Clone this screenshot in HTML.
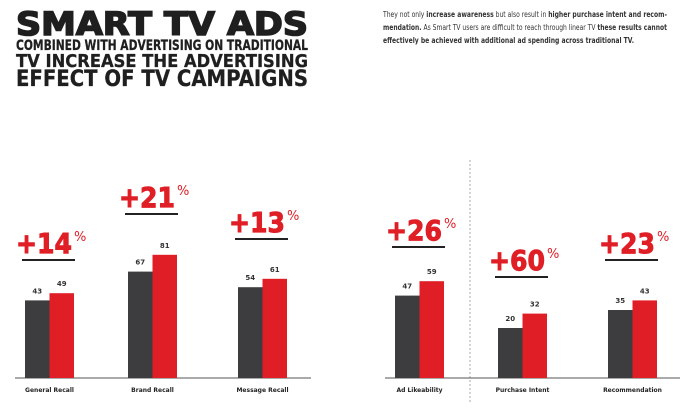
<!DOCTYPE html>
<html><head><meta charset="utf-8"><style>
html,body{margin:0;padding:0;background:#fff;}
svg{display:block;font-family:"DejaVu Sans","Liberation Sans",sans-serif;}
</style></head><body>
<svg width="700" height="413" viewBox="0 0 700 413">
<g fill="#1f1f1f" stroke="#1f1f1f" font-weight="bold">
<text x="16" y="35" font-size="32" stroke-width="1.6" textLength="292" lengthAdjust="spacingAndGlyphs">SMART TV ADS</text>
<text x="16" y="50" font-size="14" stroke-width="0.3" textLength="292" lengthAdjust="spacingAndGlyphs">COMBINED WITH ADVERTISING ON TRADITIONAL</text>
<text x="16" y="67" font-size="18" stroke-width="0.3" textLength="292" lengthAdjust="spacingAndGlyphs">TV INCREASE THE ADVERTISING</text>
<text x="16" y="86" font-size="22" stroke-width="0.3" textLength="292" lengthAdjust="spacingAndGlyphs">EFFECT OF TV CAMPAIGNS</text>
</g>
<g font-size="7.5" fill="#333">
<text x="383" y="17" textLength="284" lengthAdjust="spacingAndGlyphs">They not only <tspan font-weight="bold">increase awareness</tspan> but also result in <tspan font-weight="bold">higher purchase intent and recom-</tspan></text>
<text x="383" y="30" textLength="284" lengthAdjust="spacingAndGlyphs"><tspan font-weight="bold">mendation.</tspan>  As Smart TV users are difficult to reach through linear TV <tspan font-weight="bold">these results cannot</tspan></text>
<text x="383" y="43" textLength="251" lengthAdjust="spacingAndGlyphs" font-weight="bold">effectively be achieved with additional ad spending across traditional TV.</text>
</g>
<line x1="470" y1="160" x2="470" y2="402" stroke="#aaa" stroke-dasharray="2,2"/>
<g id="chart"></g>
</svg>
<script>
const categories=["General Recall","Brand Recall","Message Recall","Ad Likeability","Purchase Intent","Recommendation"];
const tvOnly=[43,67,54,47,20,35];
const tvPlusSmart=[49,81,61,59,32,43];
const uplift=["+14","+21","+13","+26","+60","+23"];
const groupX=[25,128,238,395,498,608];
const upliftY=[253,207,232,240,270,253];
const NS="http://www.w3.org/2000/svg";
const base=378, bw=24.5;
function y(v){return base-(26+1.2*v);}
const g=document.getElementById('chart');
function mk(tag,attrs,txt){const e=document.createElementNS(NS,tag);for(const k in attrs)e.setAttribute(k,attrs[k]);if(txt!==undefined)e.textContent=txt;g.appendChild(e);return e;}
let a1=mk('line',{x1:15,y1:base,x2:311,y2:base,stroke:'#555','stroke-width':1});


let a2=mk('line',{x1:385,y1:base,x2:680,y2:base,stroke:'#555','stroke-width':1});


categories.forEach((c,i)=>{
 const x=groupX[i];
 let b1=mk('rect',{x:x,y:y(tvOnly[i]),width:bw,height:base-y(tvOnly[i]),fill:'#3d3d3f'});
 
 
 let b2=mk('rect',{x:x+bw,y:y(tvPlusSmart[i]),width:bw,height:base-y(tvPlusSmart[i]),fill:'#e01e26'});
 
 
 let l1=mk('text',{x:x+bw/2,y:y(tvOnly[i])-7,'font-size':7,'font-weight':'bold','text-anchor':'middle',fill:'#333'},tvOnly[i]);
 
 
 let l2=mk('text',{x:x+bw*1.5,y:y(tvPlusSmart[i])-7,'font-size':7,'font-weight':'bold','text-anchor':'middle',fill:'#333'},tvPlusSmart[i]);
 
 
 let cl=mk('text',{x:x+bw,y:392,'font-size':6,'font-weight':'bold','text-anchor':'middle',fill:'#222'},c);
 
 
 const uy=upliftY[i];
 let ut=mk('text',{x:x-9,y:uy,'font-size':28,'font-weight':'bold',fill:'#e01e26',stroke:'#e01e26','stroke-width':1,textLength:56,lengthAdjust:'spacingAndGlyphs'},uplift[i]);
 
 
 let up=mk('text',{x:x+49,y:uy-12,'font-size':13,fill:'#e01e26'},'%');
 
 
 let ul=mk('line',{x1:x-3,y1:uy+7,x2:x+bw*2+1,y2:uy+7,stroke:'#222','stroke-width':2});
 
 
});
</script>
</body></html>
